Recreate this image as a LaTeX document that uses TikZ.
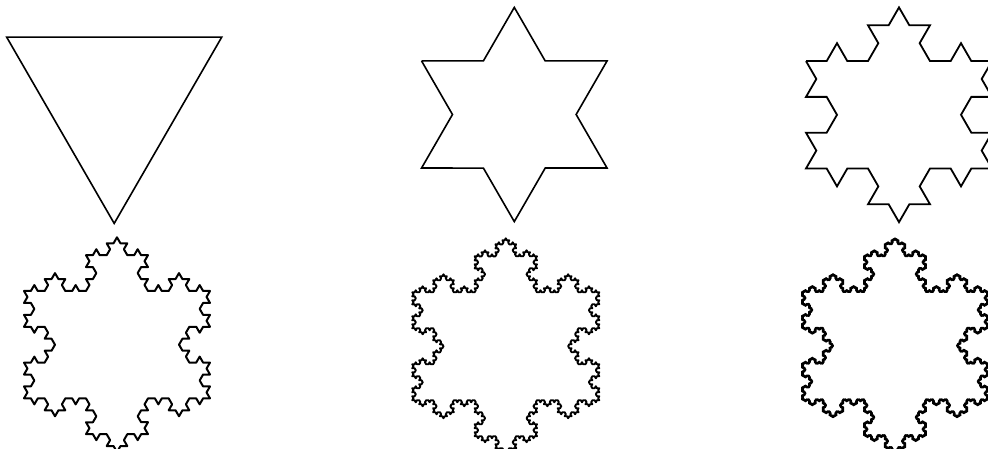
\documentclass[tikz,border=0pt]{standalone}
\usetikzlibrary{decorations.fractals}
\tikzset{
  flake/.style={draw=black, line join=miter, miter limit=10, decoration=Koch snowflake},
  fineflake/.style={draw=black, line join=round, line cap=round, decoration=Koch snowflake},
}
% \kochtri{cx}{ytop}{s}{name}: corner coordinates of base triangle (pointing down)
\newcommand{\kochtri}[4]{%
  \pgfmathsetmacro{\kh}{#3*0.8660254}%
  \coordinate (#4A) at ({#1-#3/2},{#2+\kh/3});
  \coordinate (#4B) at ({#1+#3/2},{#2+\kh/3});
  \coordinate (#4C) at ({#1},{#2+4*\kh/3});
}
\begin{document}
\begin{tikzpicture}[x=1pt,y=-1pt]
\useasboundingbox (0,0) rectangle (988,449);
% iteration 0: plain triangle
\coordinate (t0A) at (6.7,37.2);
\coordinate (t0B) at (221.7,37.2);
\coordinate (t0C) at (114.2,223.4);
\draw[flake, line width=1.6pt] (t0A) -- (t0B) -- (t0C) -- cycle;
% iteration 1
\kochtri{514.3}{7.4}{185.5}{t1}
\draw[flake, line width=1.6pt] decorate{(t1A) -- (t1B) -- (t1C) -- cycle};
% iteration 2
\kochtri{899}{7.4}{186}{t2}
\draw[flake, line width=1.8pt] decorate{decorate{(t2A) -- (t2B) -- (t2C) -- cycle}};
% iteration 3
\kochtri{117}{237.3}{186}{t3}
\draw[fineflake, line width=2.0pt] decorate{decorate{decorate{(t3A) -- (t3B) -- (t3C) -- cycle}}};
% iteration 4
\kochtri{505.8}{238.3}{187}{t4}
\draw[fineflake, line width=1.9pt] decorate{decorate{decorate{decorate{(t4A) -- (t4B) -- (t4C) -- cycle}}}};
% iteration 5
\kochtri{895}{238.3}{186}{t5}
\draw[fineflake, line width=1.9pt] decorate{decorate{decorate{decorate{decorate{(t5A) -- (t5B) -- (t5C) -- cycle}}}}};
\end{tikzpicture}
\end{document}
